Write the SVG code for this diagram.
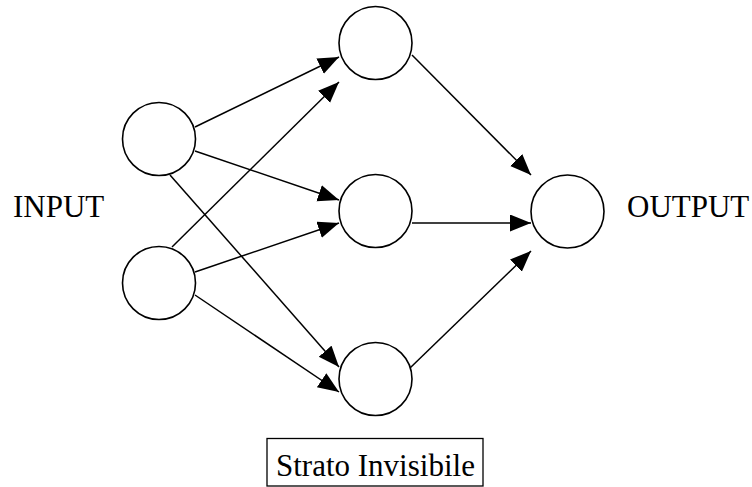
<svg xmlns="http://www.w3.org/2000/svg" width="752" height="487" viewBox="0 0 752 487">
  <style>
    .node circle { fill: #fff; stroke: #000; stroke-width: 1.6; }
    .edge { stroke: #000; stroke-width: 1.5; fill: none; marker-end: url(#arrow); }
    .lbl { font-size: 31px; fill: #000; }
  </style>
  <defs>
    <marker id="arrow" markerUnits="userSpaceOnUse" markerWidth="24" markerHeight="20" refX="21" refY="8.5" orient="auto">
      <path d="M0,0 L21,8.5 L0,17 Z" fill="#000"/>
    </marker>
  </defs>
  <g id="connectors">
    <line class="edge" x1="195" y1="127" x2="339" y2="57"/>
    <line class="edge" x1="195" y1="151" x2="339" y2="200"/>
    <line class="edge" x1="170" y1="175" x2="339" y2="367"/>
    <line class="edge" x1="172" y1="247" x2="339" y2="82"/>
    <line class="edge" x1="195" y1="272" x2="339" y2="223"/>
    <line class="edge" x1="195" y1="295" x2="339" y2="392"/>
    <line class="edge" x1="412" y1="55" x2="531" y2="175"/>
    <line class="edge" x1="412" y1="223" x2="531" y2="223"/>
    <line class="edge" x1="410" y1="368" x2="531" y2="251"/>
  </g>
  <g id="in1" class="node"><circle cx="159" cy="139" r="36.5"/></g>
  <g id="in2" class="node"><circle cx="159" cy="283" r="36.5"/></g>
  <g id="h1" class="node"><circle cx="375.5" cy="43" r="36.5"/></g>
  <g id="h2" class="node"><circle cx="375.5" cy="211" r="36.5"/></g>
  <g id="h3" class="node"><circle cx="375.5" cy="379" r="36.5"/></g>
  <g id="out" class="node"><circle cx="567.5" cy="211.5" r="36.5"/></g>
  <g id="input-label"><text class="lbl" font-family="'Liberation Serif', 'DejaVu Serif', serif" x="13" y="217">INPUT</text></g>
  <g id="output-label"><text class="lbl" font-family="'Liberation Serif', 'DejaVu Serif', serif" x="627" y="217">OUTPUT</text></g>
  <g id="strato">
    <rect x="267" y="438.5" width="216" height="47.5" fill="none" stroke="#000" stroke-width="1.3"/>
    <text class="lbl" font-family="'Liberation Serif', 'DejaVu Serif', serif" x="276" y="476">Strato Invisibile</text>
  </g>
</svg>
